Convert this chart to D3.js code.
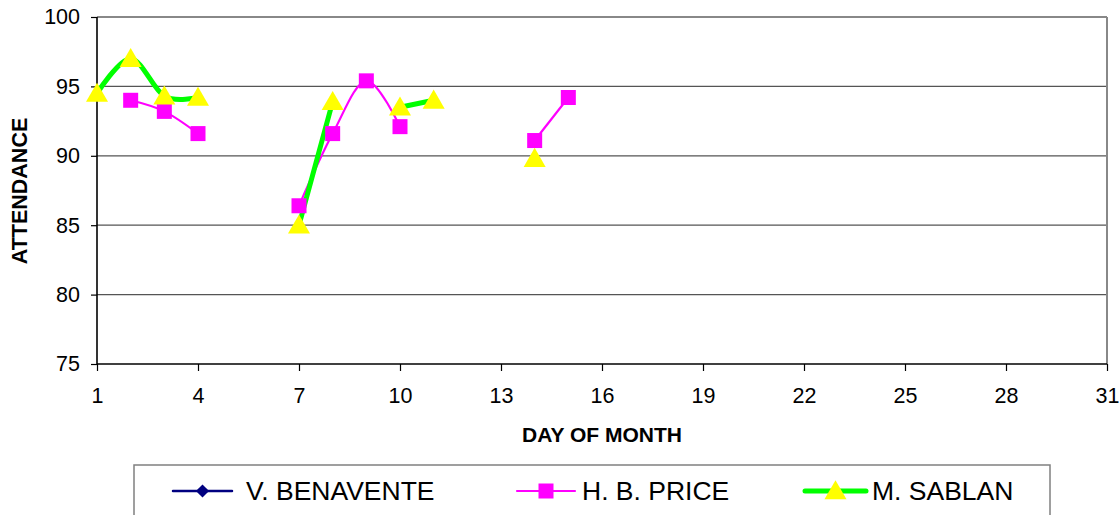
<!DOCTYPE html>
<html><head><meta charset="utf-8">
<script src="https://cdn.jsdelivr.net/npm/d3@7"></script>
<style>body{margin:0;background:#fff}svg{display:block;font-family:Arial,"Liberation Sans",sans-serif}</style>
</head><body><svg id="c" width="1120" height="515"></svg>
<script>
const days = d3.range(1, 32);
const xTicks = [1,4,7,10,13,16,19,22,25,28,31];
const yTicks = [75,80,85,90,95,100];
const seriesNames = ["V. BENAVENTE","H. B. PRICE","M. SABLAN"];
// values by day (null = no data)
const benavente = [];
const priceDays = [2,3,4,7,8,9,10,14,15];
const priceVals = [94.0,93.2,91.6,86.4,91.6,95.4,92.1,91.1,94.2];
const sablanDays = [1,2,3,4,7,8,10,11,14];
const sablanVals = [94.5,97.0,94.3,94.2,85.0,93.9,93.5,94.0,89.8];

function toSeries(ds, vs){
  return days.map(d => { const i = ds.indexOf(d); return {d, v: i<0?null:vs[i]}; });
}
const price = toSeries(priceDays, priceVals);
const sablan = toSeries(sablanDays, sablanVals);

const svg = d3.select("#c");
const L=97, R=1107, T=17, B=364;
const x = d3.scaleLinear().domain([1,31]).range([L,R]);
const y = d3.scaleLinear().domain([75,100]).range([B,T]);

// gridlines
svg.append("g").selectAll("line").data(yTicks.filter(t=>t>75&&t<100)).join("line")
  .attr("x1",L).attr("x2",R).attr("y1",d=>y(d)).attr("y2",d=>y(d))
  .attr("stroke","#555").attr("stroke-width",1.2);
// top and right border
svg.append("line").attr("x1",L).attr("x2",R).attr("y1",T).attr("y2",T).attr("stroke","#888").attr("stroke-width",2);
svg.append("line").attr("x1",R).attr("x2",R).attr("y1",T).attr("y2",B).attr("stroke","#888").attr("stroke-width",2);

// axes
const yAxis = d3.axisLeft(y).tickValues(yTicks).tickSize(6).tickPadding(11);
const gy = svg.append("g").attr("transform",`translate(${L},0)`).call(yAxis);
const xAxis = d3.axisBottom(x).tickValues(xTicks).tickSize(7).tickPadding(17);
const gx = svg.append("g").attr("transform",`translate(0,${B})`).call(xAxis);
[gy,gx].forEach(g=>{
  g.select(".domain").attr("stroke","#000").attr("stroke-width",1.6);
  g.selectAll(".tick line").attr("stroke","#000").attr("stroke-width",1.2);
  g.selectAll("text").attr("font-size",21.5).attr("fill","#000").attr("font-family","Arial, 'Liberation Sans', sans-serif");
});
gx.select(".domain").attr("d",`M${L},0H${R}`);
gy.select(".domain").attr("d",`M0,${B}V${T}`);

// axis titles
svg.append("text").attr("x",602).attr("y",442).attr("text-anchor","middle")
  .attr("font-size",21).attr("font-weight","bold").text("DAY OF MONTH");
svg.append("text").attr("transform","translate(27,191) rotate(-90)").attr("text-anchor","middle")
  .attr("font-size",21.5).attr("font-weight","bold").text("ATTENDANCE");

// lines
const line = d3.line().defined(d=>d.v!=null).x(d=>x(d.d)).y(d=>y(d.v)).curve(d3.curveCatmullRom.alpha(0));
svg.append("path").datum(price).attr("d",line).attr("fill","none").attr("stroke","#FF00FF").attr("stroke-width",2.2);
svg.append("path").datum(sablan).attr("d",line).attr("fill","none").attr("stroke","#00FF00").attr("stroke-width",5);

const tri = d3.symbol().type(d3.symbolTriangle).size(210);
svg.append("g").selectAll("rect").data(price.filter(d=>d.v!=null)).join("rect")
  .attr("x",d=>x(d.d)-7.5).attr("y",d=>y(d.v)-7.5).attr("width",15).attr("height",15).attr("fill","#FF00FF");
svg.append("g").selectAll("path").data(sablan.filter(d=>d.v!=null)).join("path")
  .attr("d",tri).attr("transform",d=>`translate(${x(d.d)},${y(d.v)+2})`).attr("fill","#FFFF00");

// legend
svg.append("rect").attr("x",134).attr("y",465).attr("width",916).attr("height",70)
  .attr("fill","none").attr("stroke","#808080").attr("stroke-width",1.5);
const ly = 491;
const lg = [
  {name:seriesNames[0], x0:173, x1:232, tx:246, color:"#000080", w:2.5, mk:"diamond"},
  {name:seriesNames[1], x0:517, x1:575, tx:582, color:"#FF00FF", w:2.2, mk:"square"},
  {name:seriesNames[2], x0:805, x1:866, tx:872, color:"#00FF00", w:5, mk:"triangle"}
];
lg.forEach(l=>{
  svg.append("line").attr("x1",l.x0).attr("x2",l.x1).attr("y1",ly).attr("y2",ly).attr("stroke",l.color).attr("stroke-width",l.w).attr("stroke-linecap","round");
  const cx=(l.x0+l.x1)/2;
  if(l.mk==="diamond") svg.append("path").attr("d",d3.symbol().type(d3.symbolDiamond2).size(110)).attr("transform",`translate(${cx},${ly})`).attr("fill","#000080");
  if(l.mk==="square") svg.append("rect").attr("x",cx-7.5).attr("y",ly-7.5).attr("width",15).attr("height",15).attr("fill","#FF00FF");
  if(l.mk==="triangle") svg.append("path").attr("d",tri).attr("transform",`translate(${cx},${ly+2})`).attr("fill","#FFFF00");
  svg.append("text").attr("x",l.tx).attr("y",ly+9).attr("font-size",26.5).attr("fill","#000").text(l.name);
});
</script></body></html>
